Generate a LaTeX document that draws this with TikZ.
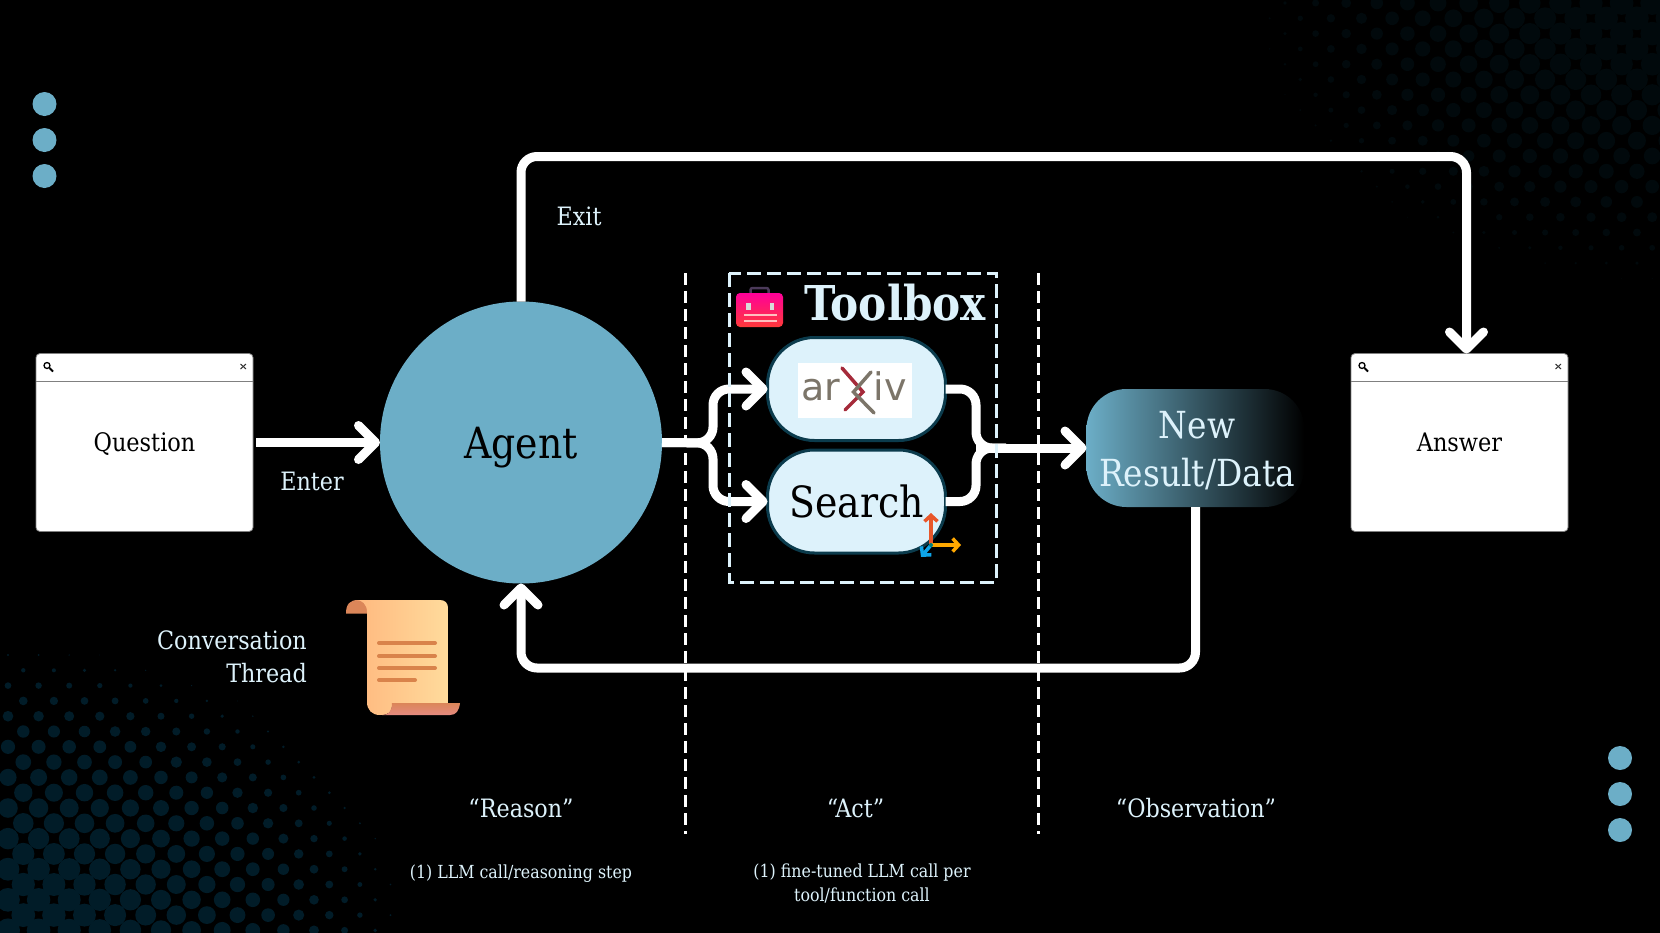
\documentclass[tikz,border=0pt]{standalone}
\usepackage{fontspec}
\setmainfont{DejaVu Serif}[FakeStretch=0.88]
\newfontfamily\logofont{DejaVu Sans}
\usetikzlibrary{arrows.meta, positioning, calc}

\definecolor{agentblue}{HTML}{6CAEC7}
\definecolor{paleblue}{HTML}{DDF2FB}
\definecolor{pilledge}{HTML}{0B3B4C}
\definecolor{dotlow}{HTML}{011C28}
\definecolor{dothigh}{HTML}{01090C}
\definecolor{logogray}{HTML}{7C7569}
\definecolor{logored}{HTML}{A52A3A}
\definecolor{axisred}{HTML}{E8572A}
\definecolor{axisamber}{HTML}{FFA800}
\definecolor{axisblue}{HTML}{0EA5E9}
\definecolor{curlbrown}{HTML}{DB8659}
\definecolor{scrollpeach}{HTML}{FFB97F}
\definecolor{scrollcream}{HTML}{FFDB9C}
\definecolor{scrollline}{HTML}{D9834B}
\definecolor{tailpink}{HTML}{E58A80}
\definecolor{caseviolet}{HTML}{4B3A5A}

\begin{document}
\begin{tikzpicture}[
    x=1pt, y=-1pt,
    node distance=12pt and 127pt,
    window/.style={rectangle, draw=gray, fill=white, line width=0.8pt, rounded corners=4pt, minimum width=217pt, minimum height=178pt, align=center, text=black, text depth=0pt, font=\fontsize{25.5}{30}\selectfont, outer sep=0pt},
    pill/.style={rectangle, draw=pilledge, fill=paleblue, line width=3pt, rounded corners=47pt, minimum width=178pt, minimum height=103pt, align=center, text=black, font=\fontsize{43}{50}\selectfont, outer sep=0pt},
    label/.style={text=paleblue, align=center, font=\fontsize{25.3}{33}\selectfont, inner sep=0pt},
    smalllabel/.style={text=paleblue, align=center, font=\fontsize{18}{24}\selectfont, inner sep=0pt},
    flow/.style={white, line width=9pt, rounded corners=16pt, -{Straight Barb[length=17pt,width=34pt,round]}},
    plainflow/.style={white, line width=9pt, rounded corners=16pt},
    axisarrow/.style={line width=3.5pt, -{Straight Barb[length=6pt,width=13pt]}},
    divider/.style={white, line width=3pt, dash pattern=on 12pt off 6pt},
    sidedot/.style={circle, fill=agentblue, minimum size=24pt, inner sep=0pt},
]
    \useasboundingbox (0,0) rectangle (1660,932);
    \fill[black] (-3,-3) rectangle (1663,935);

    % halftone corners
    \foreach \i in {0,...,18}
      \foreach \j in {0,...,13} {
        \pgfmathsetmacro{\dotx}{8+15.3*mod(\i,2)+30.6*\j}
        \pgfmathsetmacro{\doty}{655+15.3*\i}
        \pgfmathsetmacro{\rad}{12*(1-pow(\dotx/410,2)-pow((932-\doty)/290,2))}
        \ifdim\rad pt>0.3pt \fill[dotlow] (\dotx,\doty) circle[radius=\rad pt]; \fi
      }
    \foreach \i in {0,...,18}
      \foreach \j in {0,...,13} {
        \pgfmathsetmacro{\dotx}{1285-15.3*mod(\i,2)+30.6*\j}
        \pgfmathsetmacro{\doty}{3+15.3*\i}
        \pgfmathsetmacro{\rad}{12*(1-pow((1660-\dotx)/410,2)-pow(\doty/285,2))}
        \ifdim\rad pt>0.3pt \fill[dothigh] (\dotx,\doty) circle[radius=\rad pt]; \fi
      }

    \foreach \n/\y in {a/104,b/140,c/176}
      \node[sidedot] (top\n) at (44.5,\y) {};
    \foreach \n/\y in {a/758,b/794,c/830}
      \node[sidedot] (low\n) at (1620,\y) {};

    % main nodes
    \node[window] (question) at (144.5,442.5) {Question};
    \node[circle, fill=agentblue, minimum size=282pt, inner sep=0pt, outer sep=0pt, text=black, text depth=0pt, font=\fontsize{43}{50}\selectfont, right=127pt of question] (agent) {Agent};
    \node[pill] (arxiv) at (856.5,389) {};
    \node[pill, below=9.5pt of arxiv] (search) {Search};
    \node[rectangle, rounded corners=40pt, left color=agentblue, right color=black, minimum width=218pt, minimum height=118pt, outer sep=0pt] (result) at (1195.5,448) {};
    \node[align=center, text=paleblue, font=\fontsize{37.3}{48}\selectfont, inner sep=0pt, below=-95.5pt of result.south, xshift=1.5pt] (resulttext) {New\\Result/Data};
    \node[window] (answer) at (1459.5,442.5) {Answer};

    \coordinate (forkin) at (713,443);
    \coordinate (forkout) at (976,448);

    % connectors
    \draw[flow] ([xshift=3pt]question.east) -- (agent.west);
    \draw[flow] (agent.north) -- ++(0,-145) -| ([xshift=7pt]answer.north);
    \draw[flow] (result.south) -- ++(0,161) -| (agent.south);
    \draw[flow] (agent.east) -- (forkin) |- (arxiv.west);
    \draw[flow] (agent.east) -- (forkin) |- (search.west);
    \draw[plainflow] (arxiv.east) -| (forkout) -- ++(30,0);
    \draw[plainflow] (search.east) -| (forkout) -- ++(30,0);
    \draw[flow] (forkout) -- (result.west);

    % dashed columns and toolbox frame
    \draw[divider] (685,273) -- (685,834);
    \draw[divider] (1038.5,273) -- (1038.5,834);
    \draw[paleblue, line width=3pt, dash pattern=on 14pt off 6pt] (729,273) rectangle (996,582);

    % window details
    \foreach \w in {question,answer} {
      \draw[gray, line width=1pt] ([yshift=-28pt]\w.north west) -- ([yshift=-28pt]\w.north east);
      \draw[black, line width=1.3pt] ([shift={(11,12)}]\w.north west) circle[radius=3pt];
      \draw[black, line width=2pt] ([shift={(13.5,14.5)}]\w.north west) -- ([shift={(17,18)}]\w.north west);
      \draw[black!80, line width=1pt] ([shift={(-12.5,10.5)}]\w.north east) -- ([shift={(-7,15.5)}]\w.north east);
      \draw[black!80, line width=1pt] ([shift={(-12.5,15.5)}]\w.north east) -- ([shift={(-7,10.5)}]\w.north east);
    }

    % arxiv logo
    \fill[white] (798,363) rectangle (912,418);
    \node[text=logogray, font=\logofont\fontsize{38}{40}\selectfont, inner sep=0pt, anchor=base] (logoar) at (820.5,400) {ar};
    \node[text=logogray, font=\logofont\fontsize{38}{40}\selectfont, inner sep=0pt, anchor=base] (logoiv) at (890,400) {iv};
    \draw[logored, line width=3.5pt, line cap=round] (842,368) -- (863,392) -- (845,410);
    \draw[logogray, line width=3.5pt, line cap=round] (871,372) -- (853.5,392) -- (874,413);

    % search logo
    \coordinate (axes) at (931,545);
    \coordinate (axisup) at (931,513);
    \coordinate (axisright) at (961,545);
    \coordinate (axisdown) at (921,557);
    \draw[axisarrow, axisred] (axes) -- (axisup);
    \draw[axisarrow, axisamber] (axes) -- (axisright);
    \draw[axisarrow, axisblue] (axes) -- (axisdown);
    \fill[teal] (axes) circle[radius=2pt];

    % toolbox title and icon
    \node[text=paleblue, font=\fontsize{48}{50}\bfseries\selectfont, anchor=base, inner sep=0pt] (toolbox) at (895,320) {Toolbox};
    \draw[caseviolet, line width=2.5pt, rounded corners=2pt] (750.5,294) -- (750.5,288) -- (768.5,288) -- (768.5,294);
    \shade[rounded corners=4pt, top color=magenta!60!red, bottom color=red!70!pink] (736,293) rectangle (783,327);
    \fill[gray!30] (746,303) rectangle (750.5,310);
    \fill[gray!30] (769.5,303) rectangle (774,310);
    \draw[pink, line width=1.2pt] (744,315) -- (777,315);
    \draw[pink, line width=1.2pt] (744,321) -- (777,321);

    % scroll icon
    \fill[curlbrown] (346,613.5) .. controls (346,604) and (350,600) .. (358,600) -- (372,600) -- (372,613.5) -- cycle;
    \shade[left color=scrollpeach, right color=scrollcream] (356,600) -- (440,600) .. controls (445,600) and (448,603) .. (448,608) -- (448,706) -- (392,706) .. controls (392,712) and (388,715) .. (380,715) .. controls (372,715) and (367,710) .. (367,702) -- (367,612) .. controls (367,604) and (362,600) .. (356,600) -- cycle;
    \shade[top color=curlbrown, bottom color=tailpink] (392,703) -- (460,703) .. controls (459,711) and (456,715) .. (450,715) -- (382,715) .. controls (388,715) and (392,712) .. (392,703) -- cycle;
    \foreach \y/\e in {643/435,656/435,668/435,680/415}
      \draw[scrollline, line width=4pt, line cap=round] (379,\y) -- (\e,\y);

    % labels
    \node[label] (enter) at (312,481) {Enter};
    \node[label] (exit) at (579,216) {Exit};
    \node[label, align=right, anchor=east] (thread) at (307,657) {Conversation\\Thread};
    \node[label] (reason) at (521,808) {``Reason''};
    \node[label] (act) at (855.5,808) {``Act''};
    \node[label] (observation) at (1196,808) {``Observation''};
    \node[smalllabel] (reasonstep) at (521,874) {(1) LLM call/reasoning step};
    \node[smalllabel, anchor=north] (actstep) at (862,864) {(1) fine-tuned LLM call per\\tool/function call};
\end{tikzpicture}
\end{document}
